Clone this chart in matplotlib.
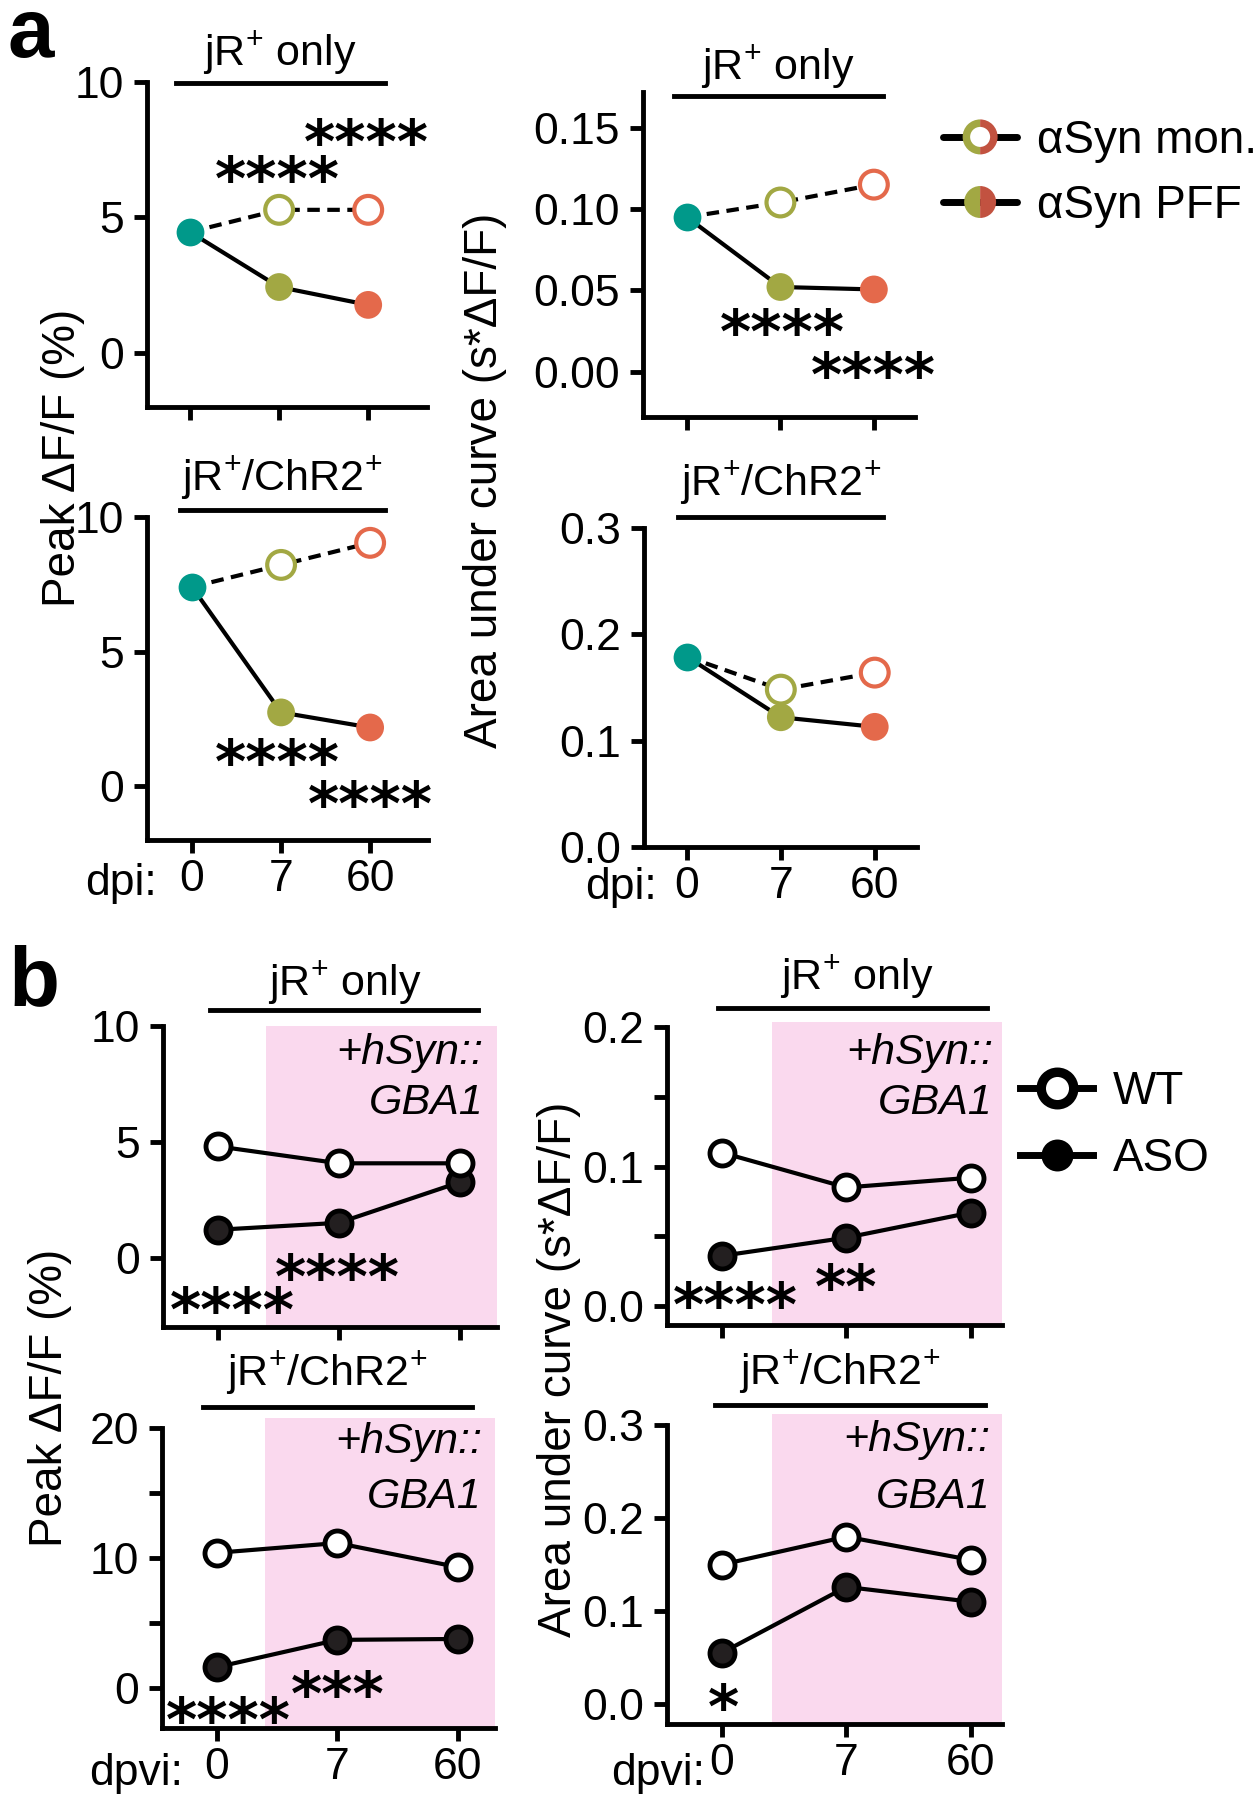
import numpy as np
import matplotlib
matplotlib.use('Agg')
import matplotlib.pyplot as plt
from matplotlib.lines import Line2D
from matplotlib.patches import Wedge, Circle
from matplotlib.legend_handler import HandlerBase

plt.rcParams['font.family'] = ['Liberation Sans', 'DejaVu Sans']
plt.rcParams['mathtext.fontset'] = 'custom'
plt.rcParams['mathtext.rm'] = 'Liberation Sans'
plt.rcParams['mathtext.it'] = 'Liberation Sans:italic'

# ---------------------------------------------------------------- data
days = ['0', '7', '60']

# panel a : alpha-syn monomer vs PFF (day 0 shared)
a_peak_jr_mon = [4.46, 5.28, 5.28]
a_peak_jr_pff = [4.46, 2.43, 1.77]
a_auc_jr_mon = [0.095, 0.104, 0.115]
a_auc_jr_pff = [0.095, 0.052, 0.0505]
a_peak_chr_mon = [7.40, 8.22, 9.04]
a_peak_chr_pff = [7.40, 2.74, 2.18]
a_auc_chr_mon = [0.179, 0.148, 0.164]
a_auc_chr_pff = [0.179, 0.122, 0.113]

# panel b : WT vs ASO
b_peak_jr_wt = [4.80, 4.07, 4.07]
b_peak_jr_aso = [1.20, 1.50, 3.25]
b_auc_jr_wt = [0.110, 0.085, 0.092]
b_auc_jr_aso = [0.036, 0.049, 0.067]
b_peak_chr_wt = [10.4, 11.15, 9.3]
b_peak_chr_aso = [1.6, 3.7, 3.77]
b_auc_chr_wt = [0.150, 0.180, 0.155]
b_auc_chr_aso = [0.055, 0.126, 0.110]

# ---------------------------------------------------------------- style
TEAL = '#00998A'
OLIVE = '#A2A843'
ORANGE = '#E4694B'
BRICK = '#C25240'
PINK = '#FAD9EE'
DARK = '#231F20'

W, H = 1260, 1804
TICK_FS = 32
TITLE_FS = 31
LABEL_FS = 33
STAR_FONT = dict(family='DejaVu Sans', weight='bold', fontsize=43)

fig = plt.figure(figsize=(W / 100, H / 100), dpi=100)


def fx(x):
    return x / W


def fy(y):
    return 1 - y / H


def make_ax(x0, y0, x1, y1, xlim, ylim, yticks, ylabels, spine_top, xlabels=False):
    ax = fig.add_axes([fx(x0), fy(y1), (x1 - x0) / W, (y1 - y0) / H])
    ax.set_xlim(*xlim)
    ax.set_ylim(*ylim)
    for s in ['top', 'right']:
        ax.spines[s].set_visible(False)
    for s in ['left', 'bottom']:
        ax.spines[s].set_linewidth(3.5)
        ax.spines[s].set_capstyle('projecting')
    ax.spines['left'].set_bounds(ylim[0], spine_top)
    ax.set_xticks(range(3))
    ax.set_xticklabels(days if xlabels else ['', '', ''])
    ax.set_yticks(yticks)
    ax.set_yticklabels(ylabels)
    ax.tick_params(width=3.5, length=9.5, labelsize=TICK_FS)
    ax.tick_params(axis='y', pad=7)
    ax.tick_params(axis='x', pad=4.5)
    ax.patch.set_alpha(0)
    return ax


def header(text, xc, yt, xb0, xb1, yb):
    fig.text(fx(xc), fy(yt), text, ha='center', va='center', fontsize=TITLE_FS)
    fig.add_artist(Line2D([fx(xb0), fx(xb1)], [fy(yb), fy(yb)], color='k', lw=3.5,
                          transform=fig.transFigure))


def stars(text, xc, yc):
    # asterisk ink sits ~33 px above the baseline at this size
    fig.text(fx(xc), fy(yc + 33), text, ha='center', va='baseline', **STAR_FONT)


def gba(xr, y1, y2):
    fig.text(fx(xr), fy(y1), '+hSyn::', ha='right', va='center', fontsize=TITLE_FS, style='italic')
    fig.text(fx(xr), fy(y2), 'GBA1', ha='right', va='center', fontsize=TITLE_FS, style='italic')


def draw_a(ax, mon, pff):
    x = np.arange(3)
    ax.plot(x, mon, color='k', lw=3, ls=(0, (3, 1.8)), zorder=2)
    ax.plot(x, pff, color='k', lw=3, zorder=2)
    ax.scatter(x[1:], mon[1:], s=20 ** 2, facecolors='white',
               edgecolors=[OLIVE, ORANGE], linewidths=3, zorder=3)
    ax.scatter(x[1:], pff[1:], s=20 ** 2, c=[OLIVE, ORANGE], linewidths=0, zorder=4)
    ax.scatter([0], [pff[0]], s=20 ** 2, c=[TEAL], linewidths=0, zorder=5)


def draw_b(ax, wt, aso):
    x = np.arange(3)
    ax.axvspan(0.4, ax.get_xlim()[1], color=PINK, lw=0, zorder=0)
    ax.plot(x, aso, color='k', lw=3, marker='o', ms=18, mfc=DARK, mec='k', mew=3.5, zorder=3)
    ax.plot(x, wt, color='k', lw=3, marker='o', ms=18, mfc='white', mec='k', mew=3.5, zorder=4)


class HalfMarkerHandler(HandlerBase):
    """legend key: black bar with a two-coloured (olive / brick) circle, optionally hollow"""

    def __init__(self, radius, hole=0):
        super().__init__()
        self.radius = radius
        self.hole = hole

    def create_artists(self, legend, orig_handle, xdescent, ydescent, width, height,
                       fontsize, trans):
        cx = width / 2 - xdescent
        cy = height / 2 - ydescent
        bar = Line2D([-xdescent, width - xdescent], [cy, cy], color='k', lw=5,
                     solid_capstyle='round', transform=trans)
        left = Wedge((cx, cy), self.radius, 90, 270, fc=OLIVE, lw=0, transform=trans)
        right = Wedge((cx, cy), self.radius, 270, 90, fc=BRICK, lw=0, transform=trans)
        arts = [bar, left, right]
        if self.hole:
            arts.append(Circle((cx, cy), self.hole, fc='white', lw=0, transform=trans))
        return arts


# ---------------------------------------------------------------- panel a
ax1 = make_ax(147, 82, 427, 407, (-0.483, 2.66), (-2, 10), [0, 5, 10], ['0', '5', '10'], 10)
draw_a(ax1, a_peak_jr_mon, a_peak_jr_pff)
ax2 = make_ax(643, 92, 915, 417, (-0.47, 2.44), (-0.028, 0.172), [0, 0.05, 0.10, 0.15],
              ['0.00', '0.05', '0.10', '0.15'], 0.172)
draw_a(ax2, a_auc_jr_mon, a_auc_jr_pff)
ax3 = make_ax(147, 517, 428, 840, (-0.506, 2.65), (-2, 10), [0, 5, 10], ['0', '5', '10'], 10,
              xlabels=True)
draw_a(ax3, a_peak_chr_mon, a_peak_chr_pff)
ax4 = make_ax(644, 528, 917, 847, (-0.457, 2.45), (0, 0.3), [0, 0.1, 0.2, 0.3],
              ['0.0', '0.1', '0.2', '0.3'], 0.3, xlabels=True)
draw_a(ax4, a_auc_chr_mon, a_auc_chr_pff)

header('jR$^{+}$ only', 280, 53, 176, 385, 83)
header('jR$^{+}$ only', 778, 67, 674, 883, 96)
header('jR$^{+}$/ChR2$^{+}$', 282, 478, 180, 385, 510)
header('jR$^{+}$/ChR2$^{+}$', 781, 483, 678, 883, 517)

stars('****', 366, 130)
stars('****', 277, 167)
stars('****', 782, 320)
stars('****', 873, 363)
stars('****', 277, 750)
stars('****', 370, 792)

fig.text(fx(157), fy(883), 'dpi:', ha='right', va='center', fontsize=TICK_FS)
fig.text(fx(657), fy(888), 'dpi:', ha='right', va='center', fontsize=TICK_FS)

fig.text(fx(63), fy(458), 'Peak ΔF/F (%)', rotation=90, ha='center', va='center',
         fontsize=LABEL_FS)
fig.text(fx(485), fy(480), 'Area under curve (s*ΔF/F)', rotation=90, ha='center',
         va='center', fontsize=LABEL_FS)

# legend a : two-coloured markers drawn by a small custom handler
mon_key = Line2D([], [])
pff_key = Line2D([], [])
fig.legend([mon_key, pff_key], ['αSyn mon.', 'αSyn PFF'],
           handler_map={mon_key: HalfMarkerHandler(12.6, 7.2),
                        pff_key: HalfMarkerHandler(11.5)},
           loc='center left', bbox_to_anchor=(fx(943), fy(173.5)), frameon=False,
           fontsize=LABEL_FS, handlelength=1.62, handletextpad=0.44, labelspacing=0.46,
           borderpad=0, borderaxespad=0)

# ---------------------------------------------------------------- panel b
bx1 = make_ax(163, 1026, 497, 1327, (-0.455, 2.31), (-3, 10), [0, 5, 10], ['0', '5', '10'], 10)
draw_b(bx1, b_peak_jr_wt, b_peak_jr_aso)
bx2 = make_ax(667, 1022, 1002, 1325, (-0.44, 2.25), (-0.0136, 0.2036),
              [0, 0.05, 0.1, 0.15, 0.2], ['0.0', '', '0.1', '', '0.2'], 0.2)
draw_b(bx2, b_auc_jr_wt, b_auc_jr_aso)
bx3 = make_ax(162, 1418, 495, 1728, (-0.456, 2.31), (-3.08, 20.77), [0, 5, 10, 15, 20],
              ['0', '', '10', '', '20'], 20, xlabels=True)
draw_b(bx3, b_peak_chr_wt, b_peak_chr_aso)
bx4 = make_ax(667, 1414, 1002, 1724, (-0.44, 2.25), (-0.0215, 0.312), [0, 0.1, 0.2, 0.3],
              ['0.0', '0.1', '0.2', '0.3'], 0.3, xlabels=True)
draw_b(bx4, b_auc_chr_wt, b_auc_chr_aso)

header('jR$^{+}$ only', 345, 983, 210, 478, 1010)
header('jR$^{+}$ only', 857, 977, 718, 987, 1008)
header('jR$^{+}$/ChR2$^{+}$', 327, 1373, 203, 472, 1407)
header('jR$^{+}$/ChR2$^{+}$', 840, 1372, 715, 985, 1405)

gba(483, 1053, 1103)
gba(993, 1053, 1103)
gba(482, 1442, 1497)
gba(990, 1440, 1497)

stars('****', 337, 1265)
stars('****', 232, 1298)
stars('****', 735, 1293)
stars('**', 846, 1275)
stars('****', 228, 1708)
stars('***', 338, 1682)
stars('*', 723, 1695)

fig.text(fx(183), fy(1773), 'dpvi:', ha='right', va='center', fontsize=TICK_FS)
fig.text(fx(705), fy(1773), 'dpvi:', ha='right', va='center', fontsize=TICK_FS)

fig.text(fx(50), fy(1398), 'Peak ΔF/F (%)', rotation=90, ha='center', va='center',
         fontsize=LABEL_FS)
fig.text(fx(559), fy(1369), 'Area under curve (s*ΔF/F)', rotation=90, ha='center',
         va='center', fontsize=LABEL_FS)

wt_handle = Line2D([], [], color='k', lw=5, marker='o', ms=23.4, mfc='white', mec='k', mew=6.8)
aso_handle = Line2D([], [], color='k', lw=5, marker='o', ms=23, mfc='k', mec='k', mew=0)
fig.legend([wt_handle, aso_handle], ['WT', 'ASO'], loc='center left',
           bbox_to_anchor=(fx(1020), fy(1125.5)), frameon=False, fontsize=LABEL_FS,
           handlelength=1.6, handletextpad=0.42, labelspacing=0.5, borderpad=0,
           borderaxespad=0)

# panel letters
fig.text(fx(8), fy(57), 'a', fontsize=60, weight='bold', ha='left', va='baseline')
fig.text(fx(8), fy(1005), 'b', fontsize=60, weight='bold', ha='left', va='baseline')

fig.savefig('out.png', dpi=100)
